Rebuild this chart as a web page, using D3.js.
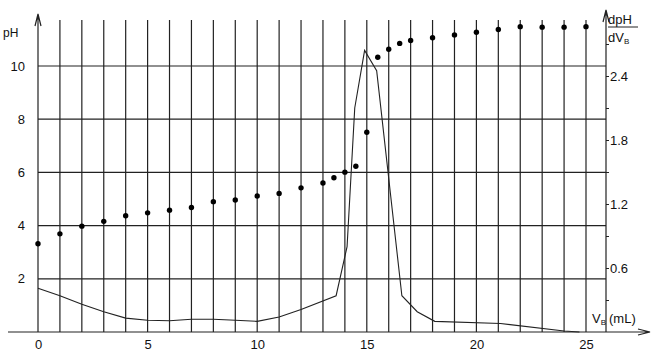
<!DOCTYPE html>
<html>
<head>
<meta charset="utf-8">
<script src="https://d3js.org/d3.v7.min.js"></script>
<style type="text/css">
body {
	margin: 0;
	background: #ffffff;
}
svg text {
	font-family: "Liberation Sans", Arial, sans-serif;
	fill: #111111;
}
</style>
</head>
<body>
<div id="svg"></div>
<script type="text/javascript">
// titration curve: pH points and dpH/dVB line
var volume = [0, 1, 2, 3, 4, 5, 6, 7, 8, 9, 10, 11, 12, 13, 13.5, 14, 14.5, 15, 15.5, 16, 16.5, 17, 18, 19, 20, 21, 22, 23, 24, 25];
var pH = [3.32, 3.69, 3.98, 4.16, 4.37, 4.48, 4.58, 4.68, 4.9, 4.96, 5.11, 5.21, 5.42, 5.6, 5.8, 6.01, 6.23, 7.51, 10.33, 10.63, 10.85, 10.96, 11.06, 11.17, 11.27, 11.37, 11.48, 11.46, 11.46, 11.48];

var derivVolume = [0, 1, 2, 3, 4, 5, 6, 7, 8, 9, 10, 11, 12, 13.6, 14.1, 14.45, 14.9, 15.45, 16.6, 17.3, 18.1, 21.1, 24, 24.7];
var dpHdV = [0.41, 0.34, 0.26, 0.19, 0.13, 0.11, 0.105, 0.12, 0.12, 0.11, 0.1, 0.14, 0.21, 0.34, 0.8, 2.1, 2.64, 2.45, 0.34, 0.19, 0.1, 0.08, 0.01, 0];

var volumeTicks = [0, 5, 10, 15, 20, 25];
var pHTicks = [2, 4, 6, 8, 10];
var rateTicks = [0.6, 1.2, 1.8, 2.4];
var rateMinorTicks = [0.3, 0.9, 1.5, 2.1, 2.7];

var width = 651;
var height = 353;
var lineColor = "#222222";

var x = d3.scaleLinear().domain([0, 25]).range([38, 586]);
var yPH = d3.scaleLinear().domain([0, 10]).range([332, 66]);
var yRate = d3.scaleLinear().domain([0, 2.4]).range([332, 76]);

var rightX = 606;
var gridTop = 20;

var svg = d3.select("#svg")
	.append("svg")
	.attr("width", width)
	.attr("height", height);

// grid
var gGrid = svg.append("g")
	.attr("stroke", lineColor)
	.attr("stroke-width", 1.2);

gGrid.selectAll("line.v")
	.data(d3.range(1, 26))
	.enter()
	.append("line")
	.attr("class", "v")
	.attr("x1", function(d) { return x(d); })
	.attr("x2", function(d) { return x(d); })
	.attr("y1", gridTop)
	.attr("y2", yPH(0));

gGrid.selectAll("line.h")
	.data(pHTicks)
	.enter()
	.append("line")
	.attr("class", "h")
	.attr("x1", x(0))
	.attr("x2", rightX)
	.attr("y1", function(d) { return yPH(d); })
	.attr("y2", function(d) { return yPH(d); });

// main axis lines with open arrow heads
var gAxes = svg.append("g")
	.attr("stroke", lineColor)
	.attr("stroke-width", 1.2)
	.attr("fill", "none");

gAxes.append("path")
	.attr("d", "M" + x(0) + "," + yPH(0) + "V" + 14 +
		"M" + (x(0) - 3) + "," + 26 + "L" + x(0) + "," + 14 + "L" + (x(0) + 3) + "," + 26);

gAxes.append("path")
	.attr("d", "M" + rightX + "," + yPH(0) + "V" + 10 +
		"M" + (rightX - 3) + "," + 22 + "L" + rightX + "," + 10 + "L" + (rightX + 3) + "," + 22);

gAxes.append("path")
	.attr("d", "M8," + yPH(0) + "H650" +
		"M638," + (yPH(0) - 3) + "L650," + yPH(0) + "L638," + (yPH(0) + 3));

// tick labels
var axisLeft = svg.append("g")
	.attr("transform", "translate(" + x(0) + ",0)")
	.call(d3.axisLeft(yPH).tickValues(pHTicks).tickSize(0).tickPadding(13));

var axisBottom = svg.append("g")
	.attr("transform", "translate(0," + yPH(0) + ")")
	.call(d3.axisBottom(x).tickValues(volumeTicks).tickSize(0).tickPadding(8));

var axisRight = svg.append("g")
	.attr("transform", "translate(" + rightX + ",0)")
	.call(d3.axisRight(yRate).tickValues(rateTicks).tickSize(3).tickPadding(1).tickFormat(d3.format(".1f")));

var axisRightMinor = svg.append("g")
	.attr("transform", "translate(" + rightX + ",0)")
	.call(d3.axisRight(yRate).tickValues(rateMinorTicks).tickSize(3).tickFormat(""));

[axisLeft, axisBottom, axisRight, axisRightMinor].forEach(function(g) {
	g.select(".domain").remove();
	g.selectAll("text")
		.attr("font-size", "13px")
		.attr("fill", "#111111");
	g.selectAll("line").attr("stroke", lineColor);
});

// axis titles
svg.append("text")
	.attr("x", 3)
	.attr("y", 37)
	.attr("font-size", "12px")
	.text("pH");

var vLabel = svg.append("text")
	.attr("x", 592)
	.attr("y", 323)
	.attr("font-size", "13px");
vLabel.append("tspan").text("V");
vLabel.append("tspan").attr("font-size", "8px").attr("dy", 2).text("B");
vLabel.append("tspan").attr("dy", -2).attr("dx", 3).text("(mL)");

svg.append("text")
	.attr("x", 608)
	.attr("y", 24)
	.attr("font-size", "13px")
	.text("dpH");

svg.append("line")
	.attr("x1", 608)
	.attr("x2", 638)
	.attr("y1", 27)
	.attr("y2", 27)
	.attr("stroke", lineColor)
	.attr("stroke-width", 1);

var dvLabel = svg.append("text")
	.attr("x", 608)
	.attr("y", 42)
	.attr("font-size", "13px");
dvLabel.append("tspan").text("dV");
dvLabel.append("tspan").attr("font-size", "8px").attr("dy", 2).text("B");

// derivative line
var derivLine = d3.line()
	.x(function(d) { return x(d[0]); })
	.y(function(d) { return yRate(d[1]); });

svg.append("path")
	.datum(d3.zip(derivVolume, dpHdV))
	.attr("d", derivLine)
	.attr("fill", "none")
	.attr("stroke", lineColor)
	.attr("stroke-width", 1.1);

// pH points
svg.append("g")
	.selectAll("circle")
	.data(d3.zip(volume, pH))
	.enter()
	.append("circle")
	.attr("cx", function(d) { return x(d[0]); })
	.attr("cy", function(d) { return yPH(d[1]); })
	.attr("r", 2.7)
	.attr("fill", "#000000");
</script>
</body>
</html>
